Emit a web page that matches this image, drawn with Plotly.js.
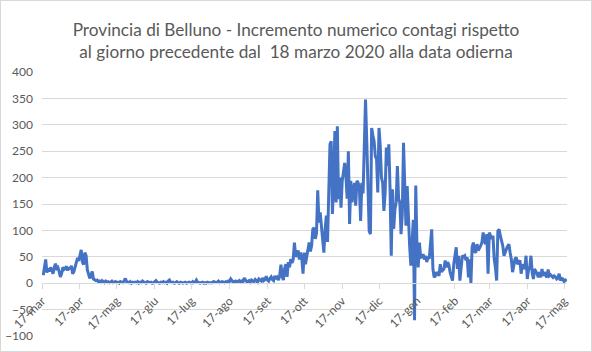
<!DOCTYPE html>
<html>
<head>
<meta charset="utf-8">
<script src="https://cdn.plot.ly/plotly-3.0.1.min.js"></script>
<style>
html,body{margin:0;padding:0;background:#fff;}
#wrap{width:590px;height:350px;border:1px solid #d9d9d9;}
#chart{width:590px;height:350px;}
</style>
</head>
<body>
<div id="wrap"><div id="chart"></div></div>
<script>
// Daily increments, first day 18 March 2020
const startDate = '2020-03-18';
const v2020Mar = [15,30,45,20,28,22,30,25,18,30,37,28,30,22];
const v2020Apr = [12,18,30,26,28,32,24,30,27,33,18,22,30,40,48,42,55,63,40,35,58,52,25,15,9,15,22,8,6,5];
const v2020May = [6,3,4,2,5,3,1,4,2,3,1,2,4,1,2,3,1,2,0,3,2,1,4,9,3,2,1,3,0,2,1];
const v2020Jun = [2,1,3,0,2,1,4,2,1,0,3,2,1,2,0,1,3,5,2,1,0,2,1,3,1,2,0,4,6,2];
const v2020Jul = [1,2,0,1,3,1,0,2,1,0,1,2,0,1,2,1,0,3,1,2,6,2,1,0,1,2,0,1,0,2,1];
const v2020Aug = [1,2,1,3,2,1,2,4,1,2,3,2,1,3,2,4,3,8,5,2,3,4,2,3,5,2,4,3,10,6,3];
const v2020Sep = [3,5,2,6,4,3,7,5,2,8,6,4,10,5,7,13,6,4,9,12,7,5,14,8,11,6,15,35,12,6];
const v2020Oct = [28,36,12,40,30,46,38,45,77,50,55,62,45,58,48,18,58,36,50,68,77,60,71,102,105,84,95,176,115,134,108];
const v2020Nov = [96,58,100,128,78,153,263,269,131,190,288,153,297,159,200,143,194,210,228,203,160,250,112,194,153,175,190,147,194,190];
const v2020Dec = [180,118,190,170,250,348,270,160,99,93,294,280,269,240,235,172,294,260,200,190,137,170,257,222,263,180,52,178,103,140,153];
const v2021Jan = [222,160,153,93,130,266,187,109,184,120,71,33,90,120,-70,185,70,30,77,49,50,55,45,52,40,50,46,74,102,27,11];
const v2021Feb = [14,21,18,14,36,21,25,27,43,30,40,35,21,12,5,36,50,68,27,52,5,30,52,50,52,43,49,11];
const v2021Mar = [45,0,68,77,60,58,74,62,66,71,77,96,80,74,93,18,96,88,84,90,46,30,5,99,102,90,80,71,52,60,65];
const v2021Apr = [70,74,58,45,21,35,46,49,36,40,43,18,36,30,27,52,8,25,30,52,20,8,27,22,18,11,21,11,27,14];
const v2021May = [21,15,11,26,14,16,14,11,14,12,8,10,18,5,9,8,3,6,8];

const tickDates = ['2020-03-17','2020-04-17','2020-05-17','2020-06-17','2020-07-17','2020-08-17','2020-09-17','2020-10-17','2020-11-17','2020-12-17','2021-01-17','2021-02-17','2021-03-17','2021-04-17','2021-05-17'];
const tickLabels = ['17-mar','17-apr','17-mag','17-giu','17-lug','17-ago','17-set','17-ott','17-nov','17-dic','17-gen','17-feb','17-mar','17-apr','17-mag'];

const values = [].concat(v2020Mar,v2020Apr,v2020May,v2020Jun,v2020Jul,v2020Aug,v2020Sep,v2020Oct,v2020Nov,v2020Dec,v2021Jan,v2021Feb,v2021Mar,v2021Apr,v2021May);
const dates = [];
const d0 = new Date(startDate + 'T00:00:00Z');
for (let i = 0; i < values.length; i++) {
  const d = new Date(d0.getTime() + i * 86400000);
  dates.push(d.toISOString().slice(0,10));
}

const txt = '#595959';
const grid = '#d9d9d9';
const fam = 'Lato, "Open Sans", sans-serif';

Plotly.newPlot('chart', [{
  type: 'scatter', mode: 'lines', x: dates, y: values,
  line: {color: '#4472C4', width: 3}, hoverinfo: 'skip'
}], {
  width: 590, height: 350,
  margin: {l: 41, r: 24, t: 71, b: 15},
  paper_bgcolor: '#fff', plot_bgcolor: '#fff',
  showlegend: false,
  title: {
    text: 'Provincia di Belluno - Incremento numerico contagi rispetto<br>al giorno precedente dal  18 marzo 2020 alla data odierna',
    font: {family: fam, size: 17.2, color: txt},
    x: 0.5, xanchor: 'center', y: 0.9, yanchor: 'middle'
  },
  xaxis: {
    type: 'date', range: ['2020-03-17', '2021-05-19 10:00'],
    anchor: 'free', position: 0.2,
    tickmode: 'array', tickvals: tickDates, ticktext: tickLabels,
    tickangle: -45, tickfont: {family: fam, size: 12, color: txt},
    ticks: 'outside', ticklen: 5, tickcolor: grid,
    showline: true, linecolor: grid, linewidth: 1,
    showgrid: false, zeroline: false
  },
  yaxis: {
    range: [-100, 400], dtick: 50, tick0: 0,
    tickfont: {family: fam, size: 12, color: txt},
    gridcolor: grid, gridwidth: 1, zeroline: false, showline: false,
    ticklabelstandoff: 8
  }
}, {displayModeBar: false, staticPlot: true});
</script>
</body>
</html>
